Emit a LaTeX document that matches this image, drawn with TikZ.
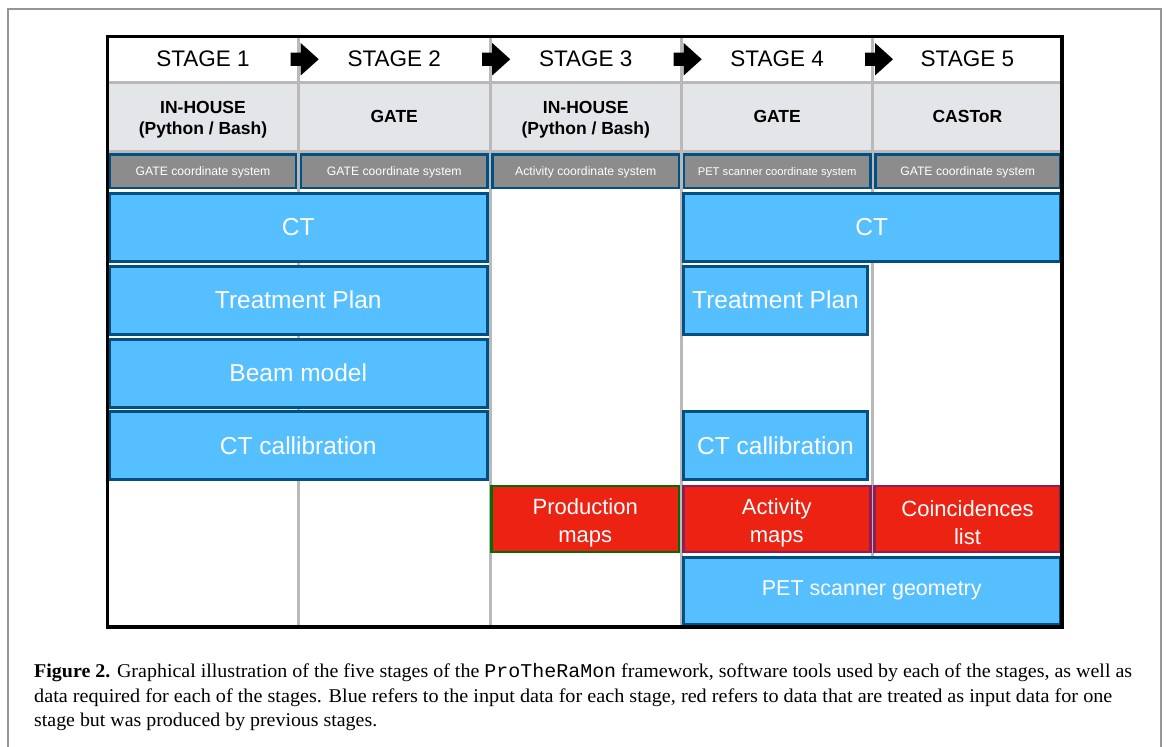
\documentclass[tikz,border=0pt]{standalone}
\usepackage{fontspec}
\usepackage{graphicx}
\setmainfont{Liberation Serif}
\newfontfamily\diagfont{Liberation Sans}
\newfontfamily\codefont{Liberation Mono}
\usetikzlibrary{calc}
\usetikzlibrary{shapes.arrows}

\definecolor{inputblue}{RGB}{86,191,255}
\definecolor{edgeblue}{RGB}{0,80,130}
\definecolor{coordgray}{RGB}{140,140,140}
\definecolor{toolgray}{RGB}{228,229,233}
\definecolor{gridgray}{RGB}{185,185,185}
\definecolor{producedred}{RGB}{236,34,18}
\definecolor{edgegreen}{RGB}{0,110,0}
\definecolor{edgepurple}{RGB}{140,30,90}
\definecolor{framegray}{RGB}{150,150,150}

\begin{document}
\begin{tikzpicture}[x=1pt,y=-1pt,
    cell/.style={anchor=north west, inner sep=0pt, outer sep=0pt, align=center},
    stagecell/.style={cell, fill=white, minimum height=45.5pt,
        text height=14pt, text depth=0pt,
        font=\diagfont\fontsize{22.5}{27}\selectfont},
    toolcell/.style={cell, fill=toolgray, minimum height=69.5pt,
        font=\diagfont\bfseries\fontsize{17.5}{21}\selectfont},
    coordbox/.style={cell, fill=coordgray, draw=edgeblue, line width=2.5pt,
        minimum height=33.5pt, text=white, text height=8.6pt, text depth=0.5pt,
        font=\diagfont\fontsize{12.2}{14}\selectfont},
    inputbox/.style={cell, fill=inputblue, draw=edgeblue, line width=3pt,
        minimum height=68pt, text=white,
        font=\diagfont\fontsize{24.5}{28}\selectfont},
    producedbox/.style={cell, fill=producedred, line width=2.5pt,
        minimum height=66pt, text=white,
        font=\diagfont\fontsize{22}{28}\selectfont},
    stagearrow/.style={single arrow, fill=black, inner sep=6.5pt,
        minimum width=32pt, minimum height=28pt, single arrow tip angle=84,
        single arrow head extend=9.5pt},
    gridline/.style={draw=gridgray, line width=3pt},
    capline/.style={anchor=base west, inner sep=0pt,
        font=\fontsize{19.5}{24}\selectfont}]
\useasboundingbox (0,0) rectangle (1168,747);

% Page frame
\draw [framegray, line width=1.5pt] (8,750) -- (8,9) -- (1161,9) -- (1161,750);

% Stage row
\node [stagecell, minimum width=191pt] (s1) at (107.5,36.5) {STAGE 1};
\node [stagecell, minimum width=191.5pt] (s2) at (298.5,36.5) {STAGE 2};
\node [stagecell, minimum width=191.5pt] (s3) at (490,36.5) {STAGE 3};
\node [stagecell, minimum width=191.3pt] (s4) at (681.5,36.5) {STAGE 4};
\node [stagecell, minimum width=189.2pt] (s5) at (872.8,36.5) {STAGE 5};

% Software row
\node [toolcell, minimum width=191pt] (t1) at (107.5,82) {\rule{0pt}{18.7pt}IN-HOUSE\\(Python / Bash)};
\node [toolcell, minimum width=191.5pt] (t2) at (298.5,82) {GATE};
\node [toolcell, minimum width=191.5pt] (t3) at (490,82) {\rule{0pt}{18.7pt}IN-HOUSE\\(Python / Bash)};
\node [toolcell, minimum width=191.3pt] (t4) at (681.5,82) {GATE};
\node [toolcell, minimum width=189.2pt] (t5) at (872.8,82) {CASToR};

% Grid lines
\draw [gridline] (298.5,36.5) -- (298.5,627);
\draw [gridline] (490,36.5) -- (490,627);
\draw [gridline] (681.5,36.5) -- (681.5,627);
\draw [gridline] (872.8,36.5) -- (872.8,627);
\draw [gridline] (107.5,82) -- (1062,82);
\draw [gridline] (107.5,151.5) -- (1062,151.5);

% Coordinate systems
\node [coordbox, minimum width=186pt] (cs1) at (110,154.5) {GATE coordinate system};
\node [coordbox, minimum width=186.5pt] (cs2) at (301,154.5) {GATE coordinate system};
\node [coordbox, minimum width=186.5pt] (cs3) at (492.5,154.5) {Activity coordinate system};
\node [coordbox, minimum width=186.3pt,
       font=\diagfont\fontsize{11.2}{14}\selectfont] (cs4) at (684,154.5) {PET scanner coordinate system};
\node [coordbox, minimum width=184.7pt] (cs5) at (875.3,154.5) {GATE coordinate system};

% Input data (blue)
\node [inputbox, minimum width=377.5pt] (ct12) at (109.5,193.5) {CT};
\node [inputbox, minimum width=376.5pt] (ct45) at (683.5,193.5) {CT};
\node [inputbox, minimum width=377.5pt] (plan12) at (109.5,266.2) {Treatment Plan};
\node [inputbox, minimum width=184pt] (plan4) at (683.5,266.2) {Treatment Plan};
\node [inputbox, minimum width=377.5pt] (beam12) at (109.5,339) {Beam model};
\node [inputbox, minimum width=377.5pt] (calib12) at (109.5,411.8) {CT callibration};
\node [inputbox, minimum width=184pt] (calib4) at (683.5,411.8) {CT callibration};
\node [inputbox, minimum width=376.5pt, minimum height=67.5pt,
       font=\diagfont\fontsize{21.5}{26}\selectfont] (pet45) at (683.5,557) {PET scanner geometry};

% Produced data (red)
\node [producedbox, draw=edgegreen, minimum width=187.5pt] (prod3) at (491.5,486) {\rule{0pt}{23.5pt}Production\\maps};
\node [producedbox, draw=edgepurple, minimum width=187pt] (act4) at (683.3,486) {\rule{0pt}{23.5pt}Activity\\maps};
\node [producedbox, draw=edgepurple, minimum width=186pt] (coinc5) at (874.5,486) {\rule{0pt}{23.5pt}Coincidences\\list};

% Stage arrows
\node [stagearrow] (a12) at ($(s1.east)+(2.5,0)$) {};
\node [stagearrow] (a23) at ($(s2.east)+(2.5,0)$) {};
\node [stagearrow] (a34) at ($(s3.east)+(2.5,0)$) {};
\node [stagearrow] (a45) at ($(s4.east)+(2.5,0)$) {};

% Diagram frame
\draw [line width=3.5pt] (107.5,36.5) rectangle (1062,627);

% Caption
\node [capline] (cap1) at (34,677.5) {\resizebox{1098pt}{\height}{\textbf{Figure 2.} Graphical illustration of the five stages of the {\codefont ProTheRaMon} framework, software tools used by each of the stages, as well as}};
\node [capline] (cap2) at (34,702) {\resizebox{1078pt}{\height}{data required for each of the stages. Blue refers to the input data for each stage, red refers to data that are treated as input data for one}};
\node [capline] (cap3) at (34,726.5) {\resizebox{343pt}{\height}{stage but was produced by previous stages.}};
\end{tikzpicture}
\end{document}
